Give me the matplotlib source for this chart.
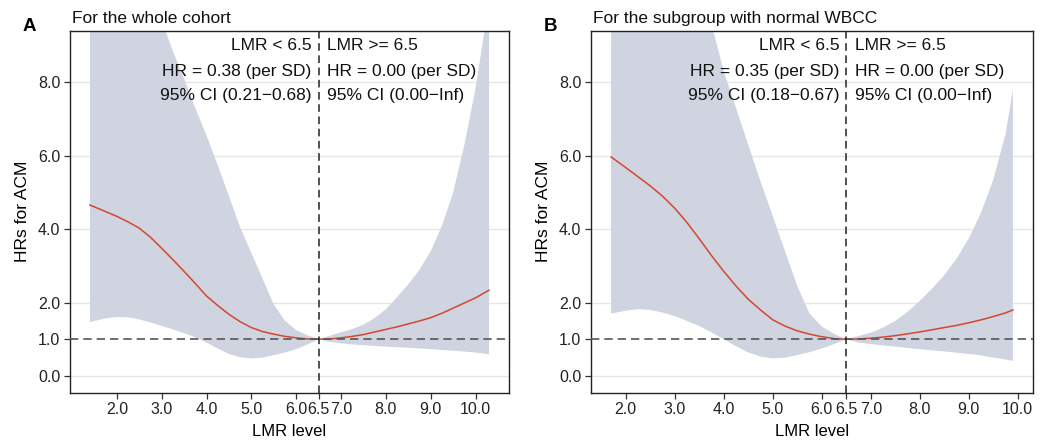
import matplotlib
matplotlib.use("Agg")
import matplotlib.pyplot as plt
import matplotlib.transforms as mtransforms

plt.rcParams['font.family'] = ['Liberation Sans', 'DejaVu Sans']

# Panel A: whole cohort (LMR level, HR, 95% CI lower / upper)
a_x = [1.4, 1.75, 2.0, 2.25, 2.5, 2.75, 3.0, 3.25, 3.5, 3.75, 4.0, 4.25, 4.5, 4.75,
       5.0, 5.25, 5.5, 5.75, 6.0, 6.25, 6.5, 6.75, 7.0, 7.25, 7.5, 7.75, 8.0, 8.25,
       8.5, 8.75, 9.0, 9.25, 9.5, 9.75, 10.0, 10.3]
a_hr = [4.66, 4.48, 4.35, 4.2, 4.03, 3.78, 3.48, 3.17, 2.85, 2.52, 2.18, 1.92, 1.68, 1.48,
        1.32, 1.21, 1.14, 1.08, 1.04, 1.01, 1.0, 1.01, 1.04, 1.08, 1.13, 1.2, 1.27, 1.34,
        1.42, 1.5, 1.59, 1.71, 1.85, 1.99, 2.13, 2.34]
a_lo = [1.47, 1.57, 1.61, 1.6, 1.54, 1.46, 1.36, 1.27, 1.17, 1.05, 0.91, 0.75, 0.6, 0.51,
        0.48, 0.5, 0.57, 0.64, 0.73, 0.86, 1.0, 0.93, 0.89, 0.86, 0.84, 0.82, 0.8, 0.785,
        0.77, 0.75, 0.73, 0.71, 0.69, 0.665, 0.64, 0.59]
a_hi = [20.0, 17.5, 16.0, 14.0, 12.5, 11.0, 9.7, 8.85, 8.1, 7.3, 6.55, 5.75, 4.9, 4.05,
        3.35, 2.65, 1.95, 1.5, 1.25, 1.11, 1.0, 1.1, 1.19, 1.28, 1.4, 1.58, 1.82, 2.15,
        2.5, 2.9, 3.4, 4.1, 5.0, 6.3, 7.85, 10.2]

# Panel B: subgroup with normal WBCC
b_x = [1.7, 2.0, 2.25, 2.5, 2.75, 3.0, 3.25, 3.5, 3.75, 4.0, 4.25, 4.5, 4.75, 5.0,
       5.25, 5.5, 5.75, 6.0, 6.25, 6.5, 6.75, 7.0, 7.25, 7.5, 7.75, 8.0, 8.25, 8.5,
       8.75, 9.0, 9.25, 9.5, 9.75, 9.9]
b_hr = [5.97, 5.68, 5.43, 5.18, 4.9, 4.57, 4.18, 3.74, 3.28, 2.85, 2.45, 2.09, 1.8, 1.53,
        1.36, 1.23, 1.14, 1.07, 1.02, 1.0, 1.01, 1.03, 1.06, 1.1, 1.15, 1.2, 1.26, 1.32,
        1.38, 1.45, 1.53, 1.62, 1.72, 1.8]
b_lo = [1.7, 1.78, 1.82, 1.8, 1.73, 1.63, 1.5, 1.36, 1.19, 1.0, 0.81, 0.64, 0.53, 0.48,
        0.5, 0.57, 0.65, 0.75, 0.87, 1.0, 0.91, 0.87, 0.83, 0.8, 0.765, 0.73, 0.7, 0.67,
        0.635, 0.6, 0.56, 0.5, 0.45, 0.41]
b_hi = [25.0, 22.0, 20.0, 18.0, 16.0, 14.0, 12.4, 10.9, 9.6, 8.3, 7.3, 6.3, 5.3, 4.36,
        3.4, 2.45, 1.7, 1.35, 1.15, 1.0, 1.09, 1.18, 1.32, 1.5, 1.75, 2.05, 2.38, 2.75,
        3.2, 3.75, 4.45, 5.35, 6.6, 7.8]

x_ticks = [2.0, 3.0, 4.0, 5.0, 6.0, 6.5, 7.0, 8.0, 9.0, 10.0]
y_ticks = [0.0, 1.0, 2.0, 4.0, 6.0, 8.0]
grid_y = [0.0, 2.0, 4.0, 6.0, 8.0]
cut = 6.5

panels = [
    dict(letter='A', title='For the whole cohort', x=a_x, hr=a_hr, lo=a_lo, hi=a_hi,
         left_txt=['LMR < 6.5', 'HR = 0.38 (per SD)', '95% CI (0.21\u22120.68)'],
         right_txt=['LMR >= 6.5', 'HR = 0.00 (per SD)', '95% CI (0.00\u2212Inf)'],
         rect=[70/1056, 49.3/442, 439/1056, 362/442]),
    dict(letter='B', title='For the subgroup with normal WBCC', x=b_x, hr=b_hr, lo=b_lo, hi=b_hi,
         left_txt=['LMR < 6.5', 'HR = 0.35 (per SD)', '95% CI (0.18\u22120.67)'],
         right_txt=['LMR >= 6.5', 'HR = 0.00 (per SD)', '95% CI (0.00\u2212Inf)'],
         rect=[591/1056, 49.3/442, 442/1056, 362/442]),
]

fig = plt.figure(figsize=(10.56, 4.42), dpi=100)

for p in panels:
    ax = fig.add_axes(p['rect'])
    xs = p['x']
    span = xs[-1] - xs[0]
    ax.set_xlim(xs[0] - 0.05 * span, xs[-1] + 0.05 * span)
    ax.set_ylim(-0.455, 9.41)

    for yt in grid_y:
        ax.axhline(yt, color='#e6e6e6', lw=1.0, zorder=0)

    ax.fill_between(xs, p['lo'], p['hi'], color='#cfd4e0', lw=0, zorder=1)
    ax.plot(xs, p['hr'], color='#d4472f', lw=1.1, zorder=3)
    ax.axhline(1.0, color='#555555', lw=1.2, ls=(0, (5, 3)), zorder=4)
    ax.axvline(cut, color='#222222', lw=1.1, ls=(0, (5, 3)), zorder=4)

    ax.set_xticks(x_ticks)
    ax.set_xticklabels([f'{v:.1f}' for v in x_ticks], fontsize=11.5, color='#222222')
    ax.set_yticks(y_ticks)
    ax.set_yticklabels([f'{v:.1f}' for v in y_ticks], fontsize=11.5, color='#222222')
    ax.tick_params(length=4, width=0.9, color='#333333', pad=3)
    for s in ax.spines.values():
        s.set_linewidth(1.0)
        s.set_color('#222222')

    ax.set_xlabel('LMR level', fontsize=12, labelpad=5)
    ax.set_ylabel('HRs for ACM', fontsize=12.5, labelpad=6)

    trans = mtransforms.blended_transform_factory(ax.transData, ax.transAxes)
    ys = [0.9467, 0.8749, 0.8086]
    for t, yy in zip(p['left_txt'], ys):
        ax.text(cut, yy, t, transform=trans + mtransforms.ScaledTranslation(-5/72, 0, fig.dpi_scale_trans),
                ha='right', va='baseline', fontsize=12.5, color='#111111', zorder=5)
    for t, yy in zip(p['right_txt'], ys):
        ax.text(cut, yy, t, transform=trans + mtransforms.ScaledTranslation(6/72, 0, fig.dpi_scale_trans),
                ha='left', va='baseline', fontsize=12.5, color='#111111', zorder=5)

    ax.text(0.004, 1 + 8/362, p['title'], transform=ax.transAxes, ha='left', va='baseline',
            fontsize=12.5, color='#111111')
    fig.text(p['rect'][0] - 47/1056, 1 - 30.7/442, p['letter'], fontsize=13.5,
             fontweight='bold', ha='left', va='baseline')

fig.savefig('out.png', dpi=100)
